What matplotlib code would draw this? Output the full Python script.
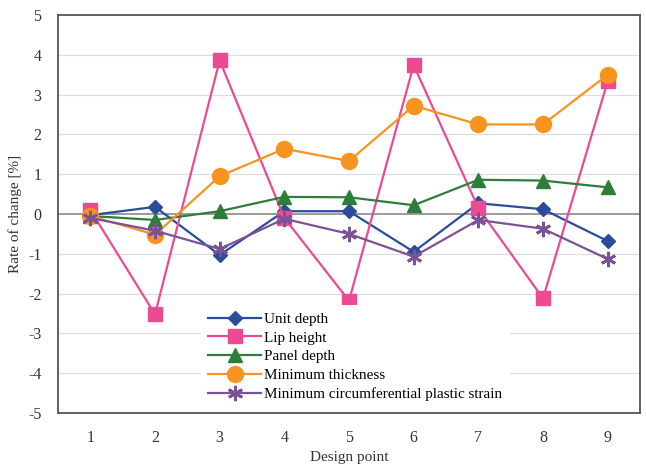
import matplotlib
matplotlib.use("Agg")
import matplotlib.pyplot as plt

design_points = [1, 2, 3, 4, 5, 6, 7, 8, 9]
unit_depth = [-0.03, 0.18, -1.03, 0.07, 0.07, -0.95, 0.27, 0.12, -0.68]
lip_height = [0.1, -2.52, 3.86, -0.1, -2.18, 3.74, 0.15, -2.12, 3.33]
panel_depth = [-0.05, -0.15, 0.07, 0.43, 0.42, 0.22, 0.86, 0.84, 0.67]
min_thickness = [-0.05, -0.52, 0.95, 1.64, 1.33, 2.72, 2.25, 2.25, 3.5]
min_strain = [-0.1, -0.42, -0.88, -0.12, -0.5, -1.07, -0.15, -0.37, -1.13]
y_ticks = [-5, -4, -3, -2, -1, 0, 1, 2, 3, 4, 5]

plt.rcParams['font.family'] = ['Liberation Serif', 'DejaVu Serif']
plt.rcParams['axes.unicode_minus'] = False

fig = plt.figure(figsize=(6.46, 4.67), dpi=100)
ax = fig.add_axes([0.0898, 0.1156, 0.9009, 0.8523])

series = [
    ("Unit depth", unit_depth, "#2B4C9B", "D", 7.5),
    ("Lip height", lip_height, "#EC4A92", "s", 10.5),
    ("Panel depth", panel_depth, "#2E7D3A", "^", 10.5),
    ("Minimum thickness", min_thickness, "#F7931E", "o", 11.5),
    ("Minimum circumferential plastic strain", min_strain, "#7A5296", (6, 2, 0), 11),
]
for label, vals, col, mk, ms in series:
    if isinstance(mk, tuple):
        kw = dict(markeredgewidth=2.0, markeredgecolor=col)
    else:
        kw = dict(markeredgecolor=col)
    ax.plot(design_points, vals, color=col, marker=mk, markersize=ms,
            linewidth=1.6, label=label, zorder=3, **kw)

ax.set_xlim(0.5, 9.5)
ax.set_ylim(-5, 5)
ax.set_yticks(y_ticks)
ax.set_xticks(design_points)
for y in y_ticks:
    if y == 0:
        ax.axhline(y, color="#8a8a8a", linewidth=1.2, zorder=1)
    elif -5 < y < 5:
        ax.axhline(y, color="#dddddd", linewidth=0.9, zorder=1)
ax.tick_params(length=0, labelsize=11.5, colors="#333333")
ax.tick_params(axis="x", pad=12)
ax.tick_params(axis="y", pad=12)
for s in ax.spines.values():
    s.set_color("#555555")
    s.set_linewidth(1.3)
ax.set_xlabel("Design point", fontsize=11, color="#333333", labelpad=4)
ax.set_ylabel("Rate of change [%]", fontsize=11, color="#333333", labelpad=4)

leg = ax.legend(loc="upper left", bbox_to_anchor=(0.245, 0.272), frameon=True,
                fontsize=10.9, handlelength=3.5, labelspacing=0.34,
                handletextpad=0.2, borderpad=0.5, borderaxespad=0)
leg.get_frame().set_facecolor("white")
leg.get_frame().set_edgecolor("none")
leg.get_frame().set_alpha(1)
leg.set_zorder(5)

fig.savefig("out.png", dpi=100)
